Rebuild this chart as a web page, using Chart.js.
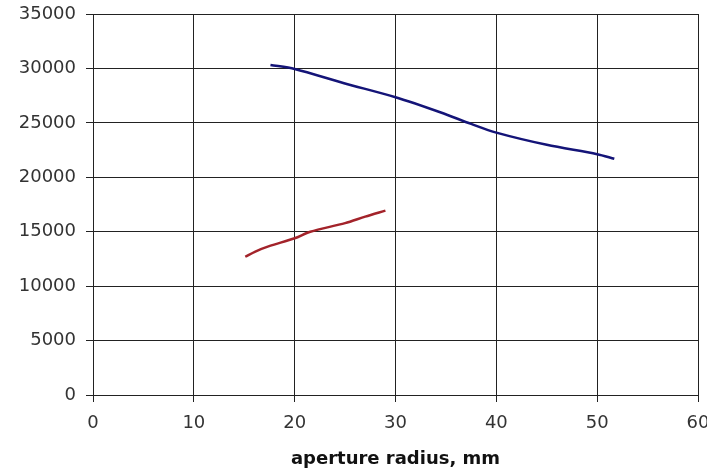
<!DOCTYPE html>
<html>
<head>
<meta charset="utf-8">
<script src="https://cdn.jsdelivr.net/npm/chart.js@4/dist/chart.umd.min.js"></script>
<style>
html,body{margin:0;padding:0;background:#fff;}
#wrap{width:707px;height:468px;position:relative;}
</style>
</head>
<body>
<div id="wrap"><canvas id="c" width="707" height="468"></canvas></div>
<script>
// Blue series (upper curve)
const blueX = [17.6, 20, 24.9, 30, 34.5, 37.5, 40, 45, 50, 51.7];
const blueY = [30320, 29950, 28640, 27350, 25950, 24900, 24100, 22980, 22120, 21700];
// Red series (lower curve)
const redX = [15.1, 16.1, 17.4, 20, 21.55, 25, 27, 29];
const redY = [12700, 13180, 13650, 14400, 15000, 15790, 16390, 16940];
// Axis settings
const xTitle = "aperture radius, mm";
const xMin = 0, xMax = 60, xStep = 10;
const yMin = 0, yMax = 35000, yStep = 5000;

const toPts = (xs, ys) => xs.map((x, i) => ({x: x, y: ys[i]}));
const FONT = 'DejaVu Sans, Liberation Sans, sans-serif';

new Chart(document.getElementById('c'), {
  type: 'scatter',
  data: {
    datasets: [
      {data: toPts(blueX, blueY), showLine: true, borderColor: '#141478', borderWidth: 2.5, pointRadius: 0, tension: 0.3, fill: false},
      {data: toPts(redX, redY), showLine: true, borderColor: '#a3232a', borderWidth: 2.5, pointRadius: 0, tension: 0.3, fill: false}
    ]
  },
  options: {
    responsive: false,
    animation: false,
    devicePixelRatio: 1,
    layout: {padding: {top: 14, right: 1, left: 0, bottom: 0}},
    plugins: {legend: {display: false}, tooltip: {enabled: false}},
    scales: {
      x: {
        type: 'linear', min: xMin, max: xMax,
        ticks: {stepSize: xStep, color: '#333', font: {family: FONT, size: 18}, padding: 11, maxRotation: 0,
                callback: v => String(v)},
        grid: {color: '#222', lineWidth: 1, tickLength: 7, drawTicks: true},
        border: {color: '#222', width: 1},
        title: {display: true, text: xTitle, color: '#111', font: {family: FONT, size: 18, weight: 'bold', lineHeight: 1.0}, padding: {top: 0, bottom: 0}},
        afterFit: s => { s.height = 73; s.paddingRight = 9; s.paddingLeft = 0; }
      },
      y: {
        type: 'linear', min: yMin, max: yMax,
        ticks: {stepSize: yStep, color: '#333', font: {family: FONT, size: 18}, padding: 10,
                callback: v => String(v)},
        grid: {color: '#222', lineWidth: 1, tickLength: 7, drawTicks: true},
        border: {color: '#222', width: 1},
        afterFit: s => { s.width = 93; s.paddingTop = 0; s.paddingBottom = 0; }
      }
    }
  }
});
</script>
</body>
</html>
